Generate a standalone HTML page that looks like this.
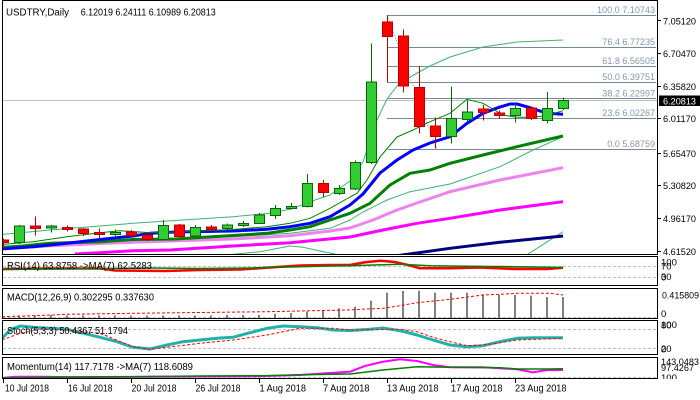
<!DOCTYPE html>
<html><head><meta charset="utf-8"><style>
html,body{margin:0;padding:0;background:#fff;}
svg{display:block;font-family:"Liberation Sans",sans-serif;}
</style></head><body>
<svg width="700" height="400" viewBox="0 0 700 400" xmlns="http://www.w3.org/2000/svg">
<defs>
<clipPath id="cm"><rect x="3" y="1" width="654" height="253"/></clipPath>
<clipPath id="cr"><rect x="3" y="257" width="654" height="28"/></clipPath>
<clipPath id="cd"><rect x="3" y="289" width="654" height="29"/></clipPath>
<clipPath id="cs"><rect x="3" y="321" width="654" height="33"/></clipPath>
<clipPath id="cmo"><rect x="3" y="358" width="654" height="20"/></clipPath>
<clipPath id="cax"><rect x="658" y="357" width="42" height="22"/></clipPath>
</defs>
<rect width="700" height="400" fill="#fff"/>

<!-- MAIN PANEL -->
<g clip-path="url(#cm)">
<line x1="3" y1="100.5" x2="657" y2="100.5" stroke="#c0c0c0" stroke-width="1"/>
<g stroke="#778899" stroke-width="1" shape-rendering="crispEdges">
<line x1="387" y1="15.5" x2="656" y2="15.5"/>
<line x1="387" y1="47.5" x2="656" y2="47.5"/>
<line x1="387" y1="66.5" x2="656" y2="66.5"/>
<line x1="387" y1="82.5" x2="656" y2="82.5"/>
<line x1="387" y1="98.5" x2="656" y2="98.5"/>
<line x1="387" y1="118.5" x2="656" y2="118.5"/>
<line x1="388" y1="149.5" x2="656" y2="149.5"/>
</g>
<line x1="387" y1="15" x2="437" y2="150" stroke="#8090a0" stroke-width="1" stroke-dasharray="1,2"/>
<g fill="#8797a8" font-size="9" text-anchor="end">
<text x="655" y="13" textLength="58" lengthAdjust="spacingAndGlyphs">100.0 7.10743</text>
<text x="655" y="45" textLength="52.7" lengthAdjust="spacingAndGlyphs">76.4 6.77235</text>
<text x="655" y="64" textLength="52.7" lengthAdjust="spacingAndGlyphs">61.8 6.56505</text>
<text x="655" y="80" textLength="52.7" lengthAdjust="spacingAndGlyphs">50.0 6.39751</text>
<text x="655" y="96.5" textLength="52.7" lengthAdjust="spacingAndGlyphs">38.2 6.22997</text>
<text x="655" y="116" textLength="52.7" lengthAdjust="spacingAndGlyphs">23.6 6.02267</text>
<text x="655" y="147" textLength="47.7" lengthAdjust="spacingAndGlyphs">0.0 5.68759</text>
</g>
<g fill="none" stroke-linejoin="round">
<polyline stroke="#3CB371" stroke-width="1" points="2,234.5 50,230 100,226 133,223.3 175,220.5 233,216.7 270,213.3 290,209.3 310,201.7 330,195 350,181 363,162 377,120 387,99 397,86 410,77 430,66 450,57 483,47 517,42 563,40"/>
<polyline stroke="#3CB371" stroke-width="1" points="2,246 100,242 170,238.5 233,236.7 290,233.3 330,228.3 350,220 363,212 387,200 410,191.7 450,184 500,166.7 533,150 563,136.7"/>
<polyline stroke="#3CB371" stroke-width="1" points="215,256 260,251.7 290,246 303,247.3 320,251 345,256"/>
<polyline stroke="#3CB371" stroke-width="1" points="525,256 563,231.7"/>
<polyline stroke="#FF00FF" stroke-width="3" points="75,254 100,252.7 133,250.7 170,250 233,246 290,242.7 350,237 383,230 417,223.3 450,218.3 500,210 563,201.7"/>
<polyline stroke="#000080" stroke-width="3" points="395,256 450,248.3 500,242.3 563,236"/>
<polyline stroke="#EE82EE" stroke-width="3" points="2,248.5 33,246.7 67,245 100,243.5 170,241 233,239 290,235.7 330,231 350,228 373,220 397,210 417,203 450,191.7 500,180 563,167.7"/>
<polyline stroke="#008000" stroke-width="3" points="2,248 50,243.3 100,241.7 133,239.5 175,239 233,235.5 267,233.3 290,230 310,226.7 330,220 350,213.3 370,203.3 390,185 410,173.3 430,170 450,163.3 483,155 517,146.7 563,136"/>
<polyline stroke="#0000FF" stroke-width="3" points="2,249 33,246.7 67,243.3 100,239.5 133,236 150,233.3 175,232 233,231 267,229.3 290,226.7 310,223.3 330,216.7 350,205 363,194 380,173 397,160 413,150 430,143 450,136.7 467,123.3 483,113.3 499,107.3 510,104 517,104 531,108 547,113.3 563,114.3"/>
<polyline stroke="#008000" stroke-width="1" points="2,244.5 33,241.7 67,236.7 100,232.7 120,230.7 150,232.7 175,232 200,231 233,229.5 267,226.7 290,223.3 310,218.3 330,208.3 350,197 357,193.3 367,180 380,157 397,137 413,130 430,121.7 450,113.3 467,99.3 483,103.3 503,115 517,117.3 527,117.3 545,116 563,110.7"/>
</g>

<!-- candles -->
<g shape-rendering="crispEdges" stroke-width="1">
<g stroke="#B40000" fill="#FF0000">
<line x1="3.5" y1="238.3" x2="3.5" y2="248.3"/><rect x="-1.5" y="240" width="10" height="2.7"/>
<line x1="35.5" y1="216.7" x2="35.5" y2="235.7"/><rect x="30.5" y="226" width="10" height="2.7"/>
<line x1="67.5" y1="225.3" x2="67.5" y2="231.7"/><rect x="62.5" y="227.3" width="10" height="2.4"/>
<line x1="83.5" y1="228" x2="83.5" y2="236"/><rect x="78.5" y="229" width="10" height="4.3"/>
<line x1="99.5" y1="228.7" x2="99.5" y2="238.3"/><rect x="94.5" y="232.7" width="10" height="2"/>
<line x1="131.5" y1="230" x2="131.5" y2="237"/><rect x="126.5" y="232" width="10" height="3.3"/>
<line x1="147.5" y1="234" x2="147.5" y2="241"/><rect x="142.5" y="235" width="10" height="4.3"/>
<line x1="179.5" y1="224" x2="179.5" y2="237.5"/><rect x="174.5" y="225" width="10" height="11.7"/>
<line x1="211.5" y1="225" x2="211.5" y2="230.5"/><rect x="206.5" y="227" width="10" height="2.7"/>
<line x1="323.5" y1="180" x2="323.5" y2="197.7"/><rect x="318.5" y="183.3" width="10" height="9.4"/>
<line x1="387.5" y1="15.3" x2="387.5" y2="82"/><rect x="382.5" y="22" width="10" height="14.7"/>
<line x1="403.5" y1="29.3" x2="403.5" y2="92.7"/><rect x="398.5" y="36" width="10" height="50"/>
<line x1="419.5" y1="66" x2="419.5" y2="133.3"/><rect x="414.5" y="87.3" width="10" height="39.2"/>
<line x1="435.5" y1="117.3" x2="435.5" y2="148.3"/><rect x="430.5" y="126" width="10" height="10.7"/>
<line x1="483.5" y1="105" x2="483.5" y2="120.7"/><rect x="478.5" y="109" width="10" height="3.7"/>
<line x1="499.5" y1="110.7" x2="499.5" y2="118.3"/><rect x="494.5" y="113" width="10" height="2.3"/>
<line x1="531.5" y1="107" x2="531.5" y2="120"/><rect x="526.5" y="108" width="10" height="10.3"/>
</g>
<g stroke="#0A640A" fill="#32CD32">
<line x1="19.5" y1="225" x2="19.5" y2="244"/><rect x="14.5" y="226" width="10" height="16.7"/>
<line x1="51.5" y1="225" x2="51.5" y2="232.7"/><rect x="46.5" y="226" width="10" height="2"/>
<line x1="115.5" y1="229.3" x2="115.5" y2="236"/><rect x="110.5" y="232.7" width="10" height="1.6"/>
<line x1="163.5" y1="220" x2="163.5" y2="240"/><rect x="158.5" y="225.3" width="10" height="14"/>
<line x1="195.5" y1="225" x2="195.5" y2="237"/><rect x="190.5" y="227.3" width="10" height="8.7"/>
<line x1="227.5" y1="223.3" x2="227.5" y2="230"/><rect x="222.5" y="225" width="10" height="3.3"/>
<line x1="243.5" y1="221" x2="243.5" y2="227"/><rect x="238.5" y="223.3" width="10" height="2.4"/>
<line x1="259.5" y1="213" x2="259.5" y2="224"/><rect x="254.5" y="215" width="10" height="8.3"/>
<line x1="275.5" y1="205" x2="275.5" y2="219"/><rect x="270.5" y="208.3" width="10" height="7.4"/>
<line x1="291.5" y1="203" x2="291.5" y2="209.3"/><rect x="286.5" y="206.7" width="10" height="1.6"/>
<line x1="307.5" y1="174" x2="307.5" y2="207.5"/><rect x="302.5" y="183.3" width="10" height="23.4"/>
<line x1="339.5" y1="185" x2="339.5" y2="195"/><rect x="334.5" y="188.3" width="10" height="5"/>
<line x1="355.5" y1="160.7" x2="355.5" y2="190"/><rect x="350.5" y="162.3" width="10" height="26.7"/>
<line x1="371.5" y1="43.3" x2="371.5" y2="164"/><rect x="366.5" y="82" width="10" height="80.3"/>
<line x1="451.5" y1="86.7" x2="451.5" y2="143.3"/><rect x="446.5" y="118.3" width="10" height="18.4"/>
<line x1="467.5" y1="100.7" x2="467.5" y2="122.7"/><rect x="462.5" y="112" width="10" height="7.3"/>
<line x1="515.5" y1="103.3" x2="515.5" y2="122.7"/><rect x="510.5" y="108.3" width="10" height="7"/>
<line x1="547.5" y1="92" x2="547.5" y2="123.3"/><rect x="542.5" y="108.3" width="10" height="12"/>
<line x1="563.5" y1="97.3" x2="563.5" y2="110"/><rect x="558.5" y="100.3" width="10" height="8"/>
</g>
</g>
</g>
<rect x="2.5" y="0.5" width="655" height="254" fill="none" stroke="#000" stroke-width="1" shape-rendering="crispEdges"/>
<text x="6" y="15.3" font-size="10" fill="#000" textLength="63" lengthAdjust="spacingAndGlyphs">USDTRY,Daily</text>
<text x="80.7" y="15.3" font-size="10" fill="#000" textLength="135" lengthAdjust="spacingAndGlyphs">6.12019 6.24111 6.10989 6.20813</text>

<!-- main axis -->
<g stroke="#000" stroke-width="1" shape-rendering="crispEdges">
<line x1="657" y1="20.5" x2="661" y2="20.5"/>
<line x1="657" y1="53.5" x2="661" y2="53.5"/>
<line x1="657" y1="86.5" x2="661" y2="86.5"/>
<line x1="657" y1="118.5" x2="661" y2="118.5"/>
<line x1="657" y1="153.5" x2="661" y2="153.5"/>
<line x1="657" y1="185.5" x2="661" y2="185.5"/>
<line x1="657" y1="218.5" x2="661" y2="218.5"/>
<line x1="657" y1="251.5" x2="661" y2="251.5"/>
</g>
<g font-size="9.5" fill="#000">
<text x="663" y="24.3" textLength="33" lengthAdjust="spacingAndGlyphs">7.05120</text>
<text x="663" y="57" textLength="33" lengthAdjust="spacingAndGlyphs">6.70470</text>
<text x="663" y="90" textLength="33" lengthAdjust="spacingAndGlyphs">6.35820</text>
<text x="663" y="122" textLength="33" lengthAdjust="spacingAndGlyphs">6.01170</text>
<text x="663" y="157" textLength="33" lengthAdjust="spacingAndGlyphs">5.65470</text>
<text x="663" y="189" textLength="33" lengthAdjust="spacingAndGlyphs">5.30820</text>
<text x="663" y="222" textLength="33" lengthAdjust="spacingAndGlyphs">4.96170</text>
<text x="663" y="255" textLength="33" lengthAdjust="spacingAndGlyphs">4.61520</text>
</g>
<rect x="659" y="95.5" width="41" height="10.5" fill="#000"/>
<text x="663" y="104.3" font-size="9.5" fill="#fff" textLength="33" lengthAdjust="spacingAndGlyphs">6.20813</text>

<!-- level lines -->
<g stroke="#c0c0c0" stroke-width="1" stroke-dasharray="3,2" shape-rendering="crispEdges">
<line x1="3" y1="266.5" x2="657" y2="266.5"/>
<line x1="3" y1="277.5" x2="657" y2="277.5"/>
<line x1="3" y1="317.5" x2="657" y2="317.5"/>
<line x1="3" y1="329.5" x2="657" y2="329.5"/>
<line x1="3" y1="348.5" x2="657" y2="348.5"/>
<line x1="3" y1="377.5" x2="657" y2="377.5"/>
</g>

<!-- RSI -->
<g clip-path="url(#cr)" fill="none">
<polyline stroke="#FF0000" stroke-width="2.5" points="2,269 50,268.5 100,268.5 115,270.5 165,271 200,270 240,269.5 270,267.5 300,265.5 330,265 350,265 365,262.3 380,260.7 395,262 410,265.5 420,268.3 450,268.3 480,267.5 515,269 547,269 563,267.7"/>
<polyline stroke="#008000" stroke-width="1.5" points="2,269.5 50,269 100,268.5 150,268 200,268.5 250,268 290,267 330,266 350,265.7 400,264.3 430,265.7 470,266.2 520,266.8 563,267.5"/>
</g>
<rect x="2.5" y="256.5" width="655" height="29" fill="none" stroke="#000" stroke-width="1" shape-rendering="crispEdges"/>
<text x="7" y="269" font-size="10" fill="#000" textLength="145" lengthAdjust="spacingAndGlyphs">RSI(14) 63.8758 -&gt;MA(7) 62.5283</text>

<!-- MACD -->
<g clip-path="url(#cd)">
<g fill="#808080">
<rect x="18" y="315.5" width="2" height="3"/><rect x="34" y="315.5" width="2" height="3"/><rect x="50" y="315" width="2" height="3.5"/>
<rect x="66" y="315.5" width="2" height="3"/><rect x="82" y="315.5" width="2" height="3"/><rect x="98" y="315.5" width="2" height="3"/>
<rect x="114" y="315.5" width="2" height="3"/><rect x="130" y="315.5" width="2" height="3"/><rect x="146" y="315.5" width="2" height="3"/>
<rect x="162" y="315.5" width="2" height="3"/><rect x="178" y="315.5" width="2" height="3"/><rect x="194" y="315.5" width="2" height="3"/>
<rect x="210" y="315.5" width="2" height="3"/><rect x="226" y="315" width="2" height="3.5"/><rect x="242" y="315" width="2" height="3.5"/>
<rect x="258" y="315" width="2" height="3.5"/><rect x="274" y="313.7" width="2" height="4.8"/><rect x="290" y="313" width="2" height="5.5"/>
<rect x="306" y="311.5" width="2" height="7"/><rect x="322" y="310" width="2" height="8.5"/><rect x="338" y="308.3" width="2" height="10.2"/>
<rect x="354" y="306.7" width="2" height="11.8"/><rect x="370" y="300.7" width="2" height="17.8"/><rect x="386" y="292.7" width="2" height="25.8"/>
<rect x="402" y="291" width="2" height="27.5"/><rect x="418" y="290.7" width="2" height="27.8"/><rect x="434" y="292.7" width="2" height="25.8"/>
<rect x="450" y="292.7" width="2" height="25.8"/><rect x="466" y="292.7" width="2" height="25.8"/><rect x="482" y="294.3" width="2" height="24.2"/>
<rect x="498" y="295" width="2" height="23.5"/><rect x="514" y="295" width="2" height="23.5"/><rect x="530" y="295.7" width="2" height="22.8"/>
<rect x="546" y="297" width="2" height="21.5"/><rect x="562" y="297" width="2" height="21.5"/>
</g>
<polyline fill="none" stroke="#FF0000" stroke-width="1" stroke-dasharray="3,2" points="2,316.7 40,315.5 67,314.3 133,313.3 200,312.5 267,311.7 347,310 383,308.3 400,305.7 417,302.7 450,299.3 483,295 500,294.3 517,293.3 550,293.3 563,295"/>
</g>
<rect x="2.5" y="288.5" width="655" height="30" fill="none" stroke="#000" stroke-width="1" shape-rendering="crispEdges"/>
<text x="7" y="300.5" font-size="10" fill="#000" textLength="147" lengthAdjust="spacingAndGlyphs">MACD(12,26,9) 0.302295 0.337630</text>

<!-- Stoch -->
<g clip-path="url(#cs)" fill="none">
<polyline stroke="#20B2AA" stroke-width="3" stroke-linejoin="round" points="2,338.3 10,330 20,326 33,327.3 67,329.3 100,337.3 117,341.7 133,347.3 150,349 167,345 183,341.7 200,340 217,338.3 233,337.3 250,332.7 267,328.3 283,326 300,326.7 317,327.7 333,330 350,330.5 370,329.3 383,328 400,330.7 417,335 433,340 450,345 467,346.7 483,345.7 500,341.7 517,338.3 533,337.7 563,337.7"/>
<polyline stroke="#FF0000" stroke-width="1" stroke-dasharray="3,2" points="2,340 20,333.3 40,329.3 67,330 100,333.3 133,346.7 150,349.3 167,347.3 200,343.3 233,340 267,335 300,328.3 333,328.3 350,330 400,329.3 417,331.7 433,337.3 450,341.7 467,345.7 483,345 500,342.7 517,340 563,338.3"/>
</g>
<rect x="2.5" y="320.5" width="655" height="34" fill="none" stroke="#000" stroke-width="1" shape-rendering="crispEdges"/>
<text x="7" y="334" font-size="10" fill="#000" textLength="121" lengthAdjust="spacingAndGlyphs">Stoch(5,3,3) 50.4367 51.1794</text>

<!-- Momentum -->
<g clip-path="url(#cmo)" fill="none">
<polyline stroke="#FF00FF" stroke-width="2" points="2,378 15,376.7 45,376.7 70,377.3 100,377 150,376.7 200,376.5 250,376.3 285,375.5 300,375 330,373 350,371.7 365,366 383,361.7 400,359.3 417,361 433,365 450,367.3 483,367.3 500,368.3 517,369.3 533,372.3 547,370 563,370"/>
<polyline stroke="#008000" stroke-width="1.5" points="2,378 67,377 133,376.7 200,376 267,375.7 300,374.7 350,374 383,370 417,366.7 450,367.3 500,367.7 517,369 547,369 563,368.7"/>
</g>
<rect x="2.5" y="357.5" width="655" height="21" fill="none" stroke="#000" stroke-width="1" shape-rendering="crispEdges"/>
<text x="7" y="370" font-size="10" fill="#000" textLength="186" lengthAdjust="spacingAndGlyphs">Momentum(14) 117.7178 -&gt;MA(7) 118.6089</text>

<!-- sub axis labels -->
<g font-size="9.5" fill="#000">
<text x="661" y="265.5">100</text>
<text x="661" y="269.5">70</text>
<text x="661" y="280">30</text>
<text x="661" y="280.5">0</text>
<text x="662" y="298.5" textLength="37" lengthAdjust="spacingAndGlyphs">0.415809</text>
<text x="661" y="317">0</text>
<text x="661" y="328">100</text>
<text x="661" y="328.5">80</text>
<text x="661" y="352">20</text>
<text x="661" y="352.5">0</text>
<text x="661" y="365" textLength="38" lengthAdjust="spacingAndGlyphs">143.0483</text>
<text x="661" y="371" textLength="33" lengthAdjust="spacingAndGlyphs">97.4267</text>
<g clip-path="url(#cax)"><text x="661" y="381">100</text></g>
</g>

<!-- date axis -->
<g stroke="#000" stroke-width="1" shape-rendering="crispEdges">
<line x1="3.5" y1="379" x2="3.5" y2="383"/>
<line x1="67.5" y1="379" x2="67.5" y2="383"/>
<line x1="131.5" y1="379" x2="131.5" y2="383"/>
<line x1="195.5" y1="379" x2="195.5" y2="383"/>
<line x1="259.5" y1="379" x2="259.5" y2="383"/>
<line x1="323.5" y1="379" x2="323.5" y2="383"/>
<line x1="387.5" y1="379" x2="387.5" y2="383"/>
<line x1="451.5" y1="379" x2="451.5" y2="383"/>
<line x1="515.5" y1="379" x2="515.5" y2="383"/>
</g>
<g font-size="10" fill="#000">
<text x="5" y="391.3" textLength="44" lengthAdjust="spacingAndGlyphs">10 Jul 2018</text>
<text x="68" y="391.3" textLength="44.5" lengthAdjust="spacingAndGlyphs">16 Jul 2018</text>
<text x="131.5" y="391.3" textLength="45" lengthAdjust="spacingAndGlyphs">20 Jul 2018</text>
<text x="195.5" y="391.3" textLength="45" lengthAdjust="spacingAndGlyphs">26 Jul 2018</text>
<text x="259.5" y="391.3" textLength="46.5" lengthAdjust="spacingAndGlyphs">1 Aug 2018</text>
<text x="323" y="391.3" textLength="46.5" lengthAdjust="spacingAndGlyphs">7 Aug 2018</text>
<text x="387" y="391.3" textLength="51.5" lengthAdjust="spacingAndGlyphs">13 Aug 2018</text>
<text x="451" y="391.3" textLength="51.5" lengthAdjust="spacingAndGlyphs">17 Aug 2018</text>
<text x="515" y="391.3" textLength="51.5" lengthAdjust="spacingAndGlyphs">23 Aug 2018</text>
</g>
</svg>
</body></html>
